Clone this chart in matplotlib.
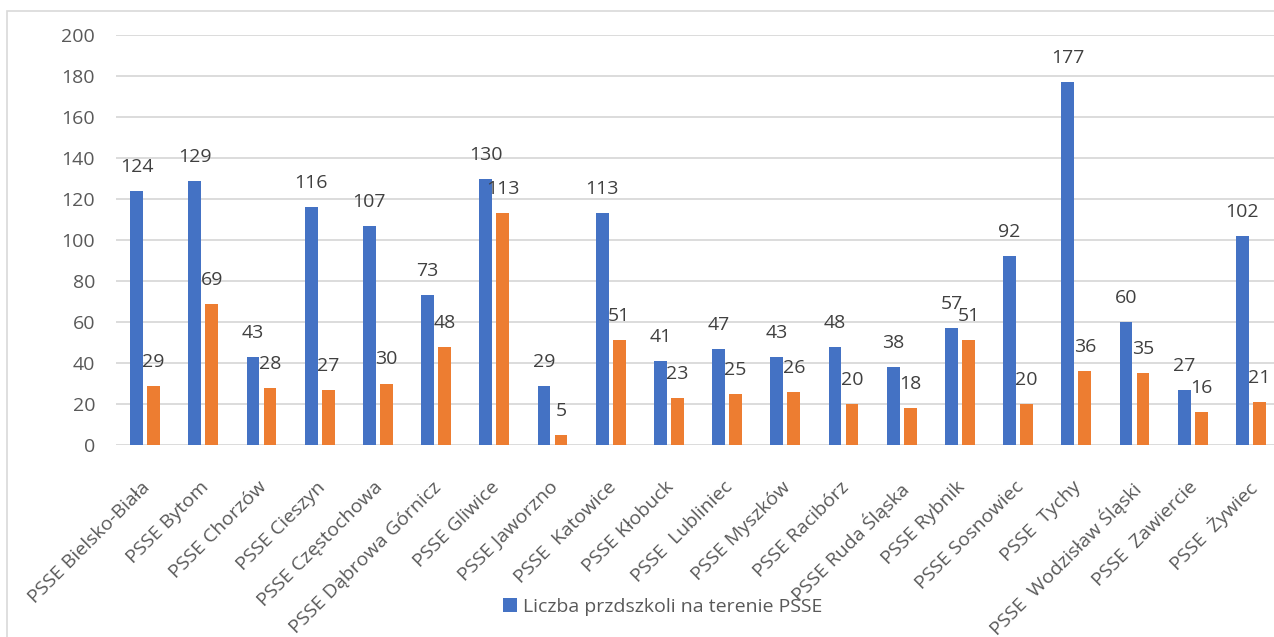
import matplotlib.pyplot as plt
import matplotlib.transforms as mtransforms
import numpy as np
from matplotlib.patches import Rectangle

plt.rcParams['font.family'] = ['Open Sans', 'DejaVu Sans']

# dane
categories = ['PSSE Bielsko-Biała', 'PSSE Bytom', 'PSSE Chorzów', 'PSSE Cieszyn',
              'PSSE Częstochowa', 'PSSE Dąbrowa Górnicz', 'PSSE Gliwice', 'PSSE Jaworzno',
              'PSSE  Katowice', 'PSSE Kłobuck', 'PSSE  Lubliniec', 'PSSE Myszków',
              'PSSE Racibórz', 'PSSE Ruda Śląska', 'PSSE Rybnik', 'PSSE Sosnowiec',
              'PSSE  Tychy', 'PSSE  Wodzisław Śląski', 'PSSE  Zawiercie', 'PSSE  Żywiec']
przedszkola = [124, 129, 43, 116, 107, 73, 130, 29, 113, 41, 47, 43, 48, 38, 57, 92, 177, 60, 27, 102]
drugie = [29, 69, 28, 27, 30, 48, 113, 5, 51, 23, 25, 26, 20, 18, 51, 20, 36, 35, 16, 21]

blue = '#4472C4'
orange = '#ED7D31'
grey = '#595959'
fs = 14

fig = plt.figure(figsize=(12.74, 6.37), dpi=100)
# ramka wykresu
fig.patches.append(Rectangle((7/1274, -0.01), 1.0, 1 - 11/637 + 0.01, transform=fig.transFigure,
                             fill=False, edgecolor='#D9D9D9', linewidth=1.2))

ax = fig.add_axes([116/1274, 1 - 445/637, 1164/1274, 410/637])
x = np.arange(len(categories))
w = 0.22
off = 0.146
b1 = ax.bar(x - off, przedszkola, w, color=blue, label='Liczba przdszkoli na terenie PSSE', zorder=3)
b2 = ax.bar(x + off, drugie, w, color=orange, label='_nolegend_', zorder=3)

for bars, vals in [(b1, przedszkola), (b2, drugie)]:
    for r, v in zip(bars, vals):
        ax.annotate(str(v), (r.get_x() + r.get_width() / 2, r.get_height()),
                    xytext=(0, 24), textcoords='offset pixels', ha='center', va='center',
                    fontsize=fs, color='#404040', zorder=4)

ax.set_ylim(0, 200)
ax.set_xlim(-0.5, len(categories) - 0.5)
ax.set_yticks(range(0, 201, 20))
ax.yaxis.grid(True, color='#D9D9D9', linewidth=1.3, zorder=0)
ax.set_axisbelow(True)
for s in ax.spines.values():
    s.set_visible(False)
ax.tick_params(axis='y', length=0, pad=15, labelsize=fs, labelcolor=grey)
ax.tick_params(axis='x', length=0, pad=0, labelsize=fs, labelcolor=grey)
ax.set_xticks(x)
ax.set_xticklabels(categories, rotation=45, ha='right', rotation_mode='anchor')
shift = mtransforms.ScaledTranslation(-0.04, -0.33, fig.dpi_scale_trans)
for lab in ax.get_xticklabels():
    lab.set_transform(lab.get_transform() + shift)

fig.legend(handles=[b1], labels=['Liczba przdszkoli na terenie PSSE'], loc='center',
           bbox_to_anchor=(0.52, 1 - 607/637), frameon=False, fontsize=fs,
           labelcolor=grey, handlelength=0.7, handleheight=0.7, handletextpad=0.3)

fig.savefig('out.png', dpi=100)
